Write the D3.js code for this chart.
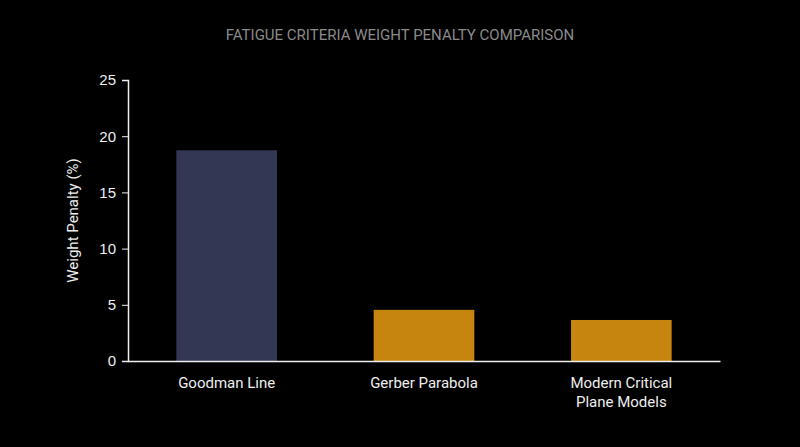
<!DOCTYPE html>
<html>
<head>
<meta charset="utf-8">
<script src="https://cdn.jsdelivr.net/npm/d3@7"></script>
<style>
  body { margin: 0; background: #000; }
  svg { display: block; }
</style>
</head>
<body>
<div id="chart"></div>
<script>
// Data
const categories = ["Goodman Line", "Gerber Parabola", "Modern Critical Plane Models"];
const labelLines = [["Goodman Line"], ["Gerber Parabola"], ["Modern Critical", "Plane Models"]];
const penalties = [18.75, 4.55, 3.65];
const barColors = ["#323753", "#c6850f", "#c6850f"];
const yTicks = [0, 5, 10, 15, 20, 25];

const width = 800, height = 447;
const margin = {top: 80, right: 80, bottom: 86, left: 128};

const svg = d3.select("#chart").append("svg")
    .attr("width", width)
    .attr("height", height)
    .style("background", "#000")
    .style("font-family", "Roboto, 'Open Sans', sans-serif");

const x = d3.scaleBand()
    .domain(categories)
    .range([margin.left, width - margin.right])
    .paddingInner(0.49)
    .paddingOuter(0.245);

const y = d3.scaleLinear()
    .domain([0, 25])
    .range([height - margin.bottom, margin.top]);

// Bars
svg.selectAll("rect.bar")
    .data(categories)
    .join("rect")
    .attr("class", "bar")
    .attr("x", d => x(d))
    .attr("y", (d, i) => y(penalties[i]))
    .attr("width", x.bandwidth())
    .attr("height", (d, i) => y(0) - y(penalties[i]))
    .attr("fill", (d, i) => barColors[i]);

// Y axis
const yAxis = svg.append("g")
    .attr("transform", `translate(${margin.left},0)`)
    .call(d3.axisLeft(y).tickValues(yTicks).tickSize(6).tickPadding(6));
yAxis.select(".domain").attr("stroke", "#eee").attr("stroke-width", 1.5);
yAxis.selectAll(".tick line").attr("stroke", "#eee");
yAxis.selectAll(".tick text").attr("fill", "#eee").style("font-size", "15px");

// X axis
const xAxis = svg.append("g")
    .attr("transform", `translate(0,${y(0)})`)
    .call(d3.axisBottom(x).tickSize(0).tickFormat(""));
xAxis.select(".domain").attr("stroke", "#eee").attr("stroke-width", 1.5);

// X labels (multi-line)
categories.forEach((c, i) => {
    const t = svg.append("text")
        .attr("x", x(c) + x.bandwidth() / 2)
        .attr("y", y(0) + 27)
        .attr("text-anchor", "middle")
        .attr("fill", "#eee")
        .style("font-size", "15px");
    labelLines[i].forEach((line, j) => {
        t.append("tspan")
            .attr("x", x(c) + x.bandwidth() / 2)
            .attr("dy", j === 0 ? 0 : 19)
            .text(line);
    });
});

// Y axis label
svg.append("text")
    .attr("transform", "rotate(-90)")
    .attr("x", -(margin.top + y(0)) / 2)
    .attr("y", 78)
    .attr("text-anchor", "middle")
    .attr("fill", "#eee")
    .style("font-size", "15px")
    .text("Weight Penalty (%)");

// Title
svg.append("text")
    .attr("x", 400)
    .attr("y", 40)
    .attr("text-anchor", "middle")
    .attr("fill", "#8a8a8a")
    .style("font-size", "15px")
    .text("FATIGUE CRITERIA WEIGHT PENALTY COMPARISON");
</script>
</body>
</html>
